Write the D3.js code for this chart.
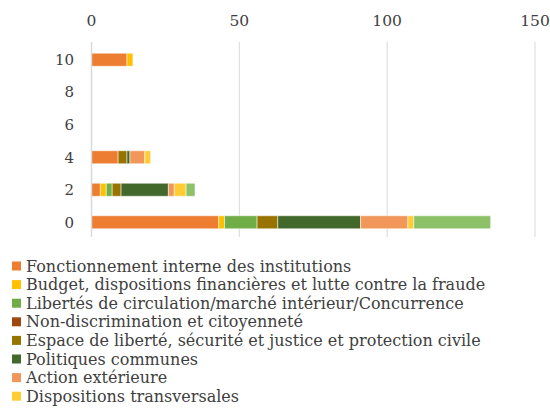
<!DOCTYPE html>
<html>
<head>
<meta charset="utf-8">
<script src="https://cdn.jsdelivr.net/npm/d3@7"></script>
<style>
  body { margin: 0; background: #fff; }
  svg { font-family: "DejaVu Serif", serif; }
</style>
</head>
<body>
<svg id="drawspace" width="550" height="410"></svg>
<script>
// categories on the vertical axis (only even ones get a label)
let categories = [0, 1, 2, 3, 4, 5, 6, 7, 8, 9, 10];
let yTicks = [0, 2, 4, 6, 8, 10];
let xTicks = [0, 50, 100, 150];

let seriesNames = [
  "Fonctionnement interne des institutions",
  "Budget, dispositions financières et lutte contre la fraude",
  "Libertés de circulation/marché intérieur/Concurrence",
  "Non-discrimination et citoyenneté",
  "Espace de liberté, sécurité et justice et protection civile",
  "Politiques communes",
  "Action extérieure",
  "Dispositions transversales",
  "Autres"
];
let seriesColors = ["#ED7D31", "#FFC000", "#70AD47", "#9E480E", "#997300",
  "#43682B", "#F1975A", "#FFCD33", "#8CC168"];
// the last series is drawn but its legend entry falls outside the picture
let legendCount = 8;

// one value per series, for categories 0, 2, 4 and 10
let values0 = [43, 2, 11, 0, 7, 28, 16, 2, 26];
let values2 = [3, 2, 2, 0, 3, 16, 2, 4, 3];
let values4 = [9, 0, 0, 0, 3, 1, 5, 2, 0];
let values10 = [12, 2, 0, 0, 0, 0, 0, 0, 0];

let rows = [
  { cat: 0, vals: values0 },
  { cat: 2, vals: values2 },
  { cat: 4, vals: values4 },
  { cat: 10, vals: values10 }
];

let svg = d3.select("#drawspace");

let xScale = d3.scaleLinear().domain([0, 150]).range([91.5, 535]);
let yScale = d3.scaleBand().domain(categories).range([239, 43])
  .paddingInner(0.2).paddingOuter(0.63);

// gridlines
svg.append("g")
  .selectAll("line")
  .data(xTicks.slice(1))
  .enter()
  .append("line")
  .attr("x1", (d) => xScale(d))
  .attr("x2", (d) => xScale(d))
  .attr("y1", 42)
  .attr("y2", 237)
  .attr("stroke", "#d9d9d9")
  .attr("stroke-width", 1);

// top axis labels
svg.append("g")
  .selectAll("text")
  .data(xTicks)
  .enter()
  .append("text")
  .attr("x", (d) => xScale(d))
  .attr("y", 26)
  .attr("text-anchor", "middle")
  .attr("font-size", 15.5)
  .attr("fill", "#404040")
  .text((d) => d);

// stacked bars
rows.forEach((r) => {
  let acc = 0;
  let segs = r.vals.map((v, i) => {
    let s = { x0: acc, x1: acc + v, i: i };
    acc += v;
    return s;
  }).filter((s) => s.x1 > s.x0);

  svg.append("g")
    .selectAll("rect")
    .data(segs)
    .enter()
    .append("rect")
    .attr("x", (d) => xScale(d.x0))
    .attr("width", (d) => xScale(d.x1) - xScale(d.x0))
    .attr("y", yScale(r.cat))
    .attr("height", yScale.bandwidth())
    .attr("fill", (d) => seriesColors[d.i])
    .attr("stroke", "rgba(255,255,255,0.5)")
    .attr("stroke-width", 1);
});

// left axis line
svg.append("line")
  .attr("x1", xScale(0))
  .attr("x2", xScale(0))
  .attr("y1", 42)
  .attr("y2", 237)
  .attr("stroke", "#d9d9d9")
  .attr("stroke-width", 1.5);

// left category labels
svg.append("g")
  .selectAll("text")
  .data(yTicks)
  .enter()
  .append("text")
  .attr("x", 74)
  .attr("y", (d) => yScale(d) + yScale.bandwidth() / 2)
  .attr("dy", "0.35em")
  .attr("text-anchor", "end")
  .attr("font-size", 15)
  .attr("fill", "#404040")
  .text((d) => d);

// legend
let legend = svg.append("g")
  .selectAll("g")
  .data(seriesNames.slice(0, legendCount))
  .enter()
  .append("g")
  .attr("transform", (d, i) => "translate(12," + (266 + i * 18.6) + ")");

legend.append("rect")
  .attr("x", 0)
  .attr("y", -4.5)
  .attr("width", 9)
  .attr("height", 9)
  .attr("fill", (d, i) => seriesColors[i]);

legend.append("text")
  .attr("x", 14)
  .attr("y", 0)
  .attr("dy", "0.35em")
  .attr("font-size", 16)
  .attr("fill", "#404040")
  .text((d) => d);
</script>
</body>
</html>
